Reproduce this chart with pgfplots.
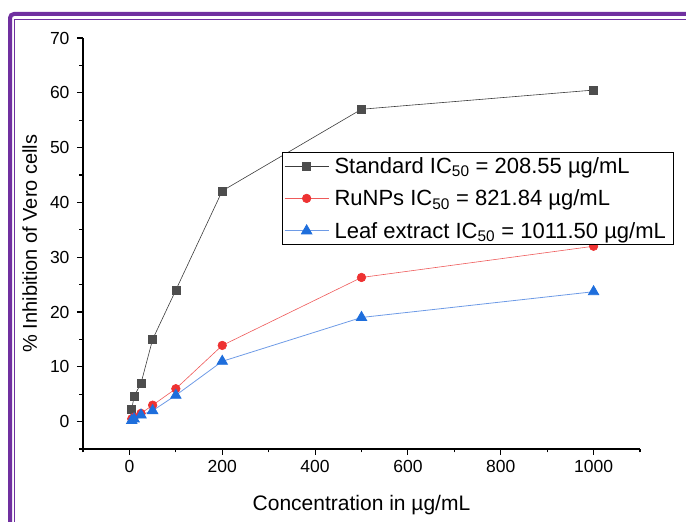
\documentclass[border=0pt]{standalone}
\usepackage{pgfplots}
\pgfplotsset{compat=1.18}
\usepackage{fontspec}
\setmainfont{Liberation Sans}
\definecolor{frame}{RGB}{112,48,160}
\definecolor{stdm}{RGB}{77,77,77}
\definecolor{stdl}{RGB}{60,60,60}
\definecolor{redm}{RGB}{238,50,50}
\definecolor{redl}{RGB}{238,90,90}
\definecolor{bluem}{RGB}{30,110,220}
\definecolor{bluel}{RGB}{110,155,230}
\begin{document}
\begin{tikzpicture}[x=1pt,y=1pt]
\useasboundingbox (0,0) rectangle (686,522);
\draw[frame,line width=4pt,rounded corners=4pt] (10,-30) -- (10,508) -- (720,508);
\draw[frame,line width=1.5pt] (14.5,-30) -- (14.5,502.5) -- (720,502.5);
\begin{axis}[
  at={(83pt,73pt)}, anchor=south west,
  scale only axis, width=557pt, height=411pt,
  xmin=-100, xmax=1100, ymin=-5, ymax=70,
  axis x line*=bottom, axis y line*=left,
  axis line style={line width=1.3pt, -},
  xtick={0,200,...,1000}, minor xtick={-100,100,...,1100},
  ytick={0,10,...,70}, minor ytick={-5,5,...,65},
  tick align=outside, major tick length=6pt, minor tick length=3.5pt,
  every tick/.style={black, line width=1.1pt},
  tick label style={font=\fontsize{17.5}{20}\selectfont},
  xticklabel style={yshift=-2pt},
  yticklabel style={xshift=-4pt},
  /pgf/number format/assume math mode=true,
  /pgf/number format/1000 sep={},
  xlabel={Concentration in µg/mL},
  ylabel={\% Inhibition of Vero cells},
  xlabel style={yshift=-15pt, font=\fontsize{21}{24}\selectfont},
  ylabel style={yshift=6pt, font=\fontsize{20}{24}\selectfont},
  legend cell align=left,
  legend style={at={(0.357,0.723)}, anchor=north west, draw=black, line width=0.8pt,
    font=\fontsize{22}{25}\selectfont, inner xsep=2pt, inner ysep=3pt, row sep=11pt,
    nodes={inner xsep=5.5pt}},
  legend image code/.code={\draw[mark repeat=2,mark phase=2] plot coordinates {(0pt,0pt)(22pt,0pt)(44pt,0pt)};},
]
\addplot[stdl, line width=0.6pt, mark=square*, mark size=4pt, mark options={stdm, fill=stdm}]
 coordinates {(5,2.2)(10,4.6)(25,7)(50,15)(100,24)(200,42.1)(500,57)(1000,60.5)};
\addlegendentry{Standard IC\textsubscript{50} = 208.55 µg/mL}
\addplot[redl, line width=0.6pt, mark=*, mark size=4.3pt, mark options={redm, fill=redm}]
 coordinates {(5,0.5)(10,0.8)(25,1.5)(50,3)(100,6)(200,13.9)(500,26.3)(1000,32)};
\addlegendentry{RuNPs IC\textsubscript{50} = 821.84 µg/mL}
\addplot[bluel, line width=0.8pt, mark=triangle*, mark size=6pt, mark options={bluem, fill=bluem}]
 coordinates {(5,0.2)(10,0.5)(25,1.2)(50,2)(100,4.8)(200,11)(500,19)(1000,23.7)};
\addlegendentry{Leaf extract IC\textsubscript{50} = 1011.50 µg/mL}
\end{axis}
\end{tikzpicture}
\end{document}
